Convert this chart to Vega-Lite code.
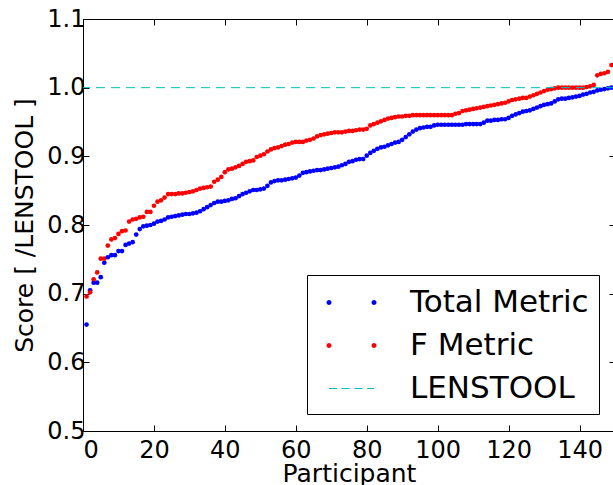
{
"$schema":"https://vega.github.io/schema/vega-lite/v6.json",
"width":532,"height":412,
"autosize":{"type":"none"},
"padding":{"left":83,"top":19,"right":0,"bottom":54},
"background":"white",
"config":{"font":"DejaVu Sans","view":{"stroke":"black","strokeWidth":1},
"axis":{"grid":false,"domainColor":"black","tickColor":"black","labelColor":"black","titleColor":"black","labelFont":"DejaVu Sans","titleFont":"DejaVu Sans","labelFontSize":24,"titleFontSize":25,"titleFontWeight":"normal","tickSize":-6,"tickWidth":1,"domainWidth":1}},
"datasets":{"scores":[
{"participant":1,"Total Metric":0.655,"F Metric":0.696},
{"participant":2,"Total Metric":0.705,"F Metric":0.702},
{"participant":3,"Total Metric":0.716,"F Metric":0.721},
{"participant":4,"Total Metric":0.716,"F Metric":0.731},
{"participant":5,"Total Metric":0.724,"F Metric":0.751},
{"participant":6,"Total Metric":0.745,"F Metric":0.751},
{"participant":7,"Total Metric":0.753,"F Metric":0.770},
{"participant":8,"Total Metric":0.756,"F Metric":0.779},
{"participant":9,"Total Metric":0.756,"F Metric":0.781},
{"participant":10,"Total Metric":0.762,"F Metric":0.787},
{"participant":11,"Total Metric":0.762,"F Metric":0.791},
{"participant":12,"Total Metric":0.771,"F Metric":0.792},
{"participant":13,"Total Metric":0.773,"F Metric":0.805},
{"participant":14,"Total Metric":0.775,"F Metric":0.808},
{"participant":15,"Total Metric":0.786,"F Metric":0.809},
{"participant":16,"Total Metric":0.794,"F Metric":0.811},
{"participant":17,"Total Metric":0.798,"F Metric":0.812},
{"participant":18,"Total Metric":0.799,"F Metric":0.819},
{"participant":19,"Total Metric":0.800,"F Metric":0.819},
{"participant":20,"Total Metric":0.802,"F Metric":0.828},
{"participant":21,"Total Metric":0.805,"F Metric":0.834},
{"participant":22,"Total Metric":0.806,"F Metric":0.836},
{"participant":23,"Total Metric":0.808,"F Metric":0.840},
{"participant":24,"Total Metric":0.811,"F Metric":0.845},
{"participant":25,"Total Metric":0.812,"F Metric":0.845},
{"participant":26,"Total Metric":0.813,"F Metric":0.845},
{"participant":27,"Total Metric":0.814,"F Metric":0.846},
{"participant":28,"Total Metric":0.815,"F Metric":0.846},
{"participant":29,"Total Metric":0.816,"F Metric":0.847},
{"participant":30,"Total Metric":0.816,"F Metric":0.848},
{"participant":31,"Total Metric":0.817,"F Metric":0.849},
{"participant":32,"Total Metric":0.818,"F Metric":0.851},
{"participant":33,"Total Metric":0.820,"F Metric":0.853},
{"participant":34,"Total Metric":0.823,"F Metric":0.854},
{"participant":35,"Total Metric":0.826,"F Metric":0.855},
{"participant":36,"Total Metric":0.829,"F Metric":0.856},
{"participant":37,"Total Metric":0.832,"F Metric":0.863},
{"participant":38,"Total Metric":0.834,"F Metric":0.866},
{"participant":39,"Total Metric":0.834,"F Metric":0.870},
{"participant":40,"Total Metric":0.835,"F Metric":0.877},
{"participant":41,"Total Metric":0.836,"F Metric":0.881},
{"participant":42,"Total Metric":0.838,"F Metric":0.882},
{"participant":43,"Total Metric":0.839,"F Metric":0.884},
{"participant":44,"Total Metric":0.842,"F Metric":0.886},
{"participant":45,"Total Metric":0.845,"F Metric":0.889},
{"participant":46,"Total Metric":0.847,"F Metric":0.892},
{"participant":47,"Total Metric":0.849,"F Metric":0.893},
{"participant":48,"Total Metric":0.851,"F Metric":0.894},
{"participant":49,"Total Metric":0.851,"F Metric":0.899},
{"participant":50,"Total Metric":0.852,"F Metric":0.901},
{"participant":51,"Total Metric":0.853,"F Metric":0.903},
{"participant":52,"Total Metric":0.857,"F Metric":0.907},
{"participant":53,"Total Metric":0.862,"F Metric":0.910},
{"participant":54,"Total Metric":0.864,"F Metric":0.912},
{"participant":55,"Total Metric":0.865,"F Metric":0.913},
{"participant":56,"Total Metric":0.865,"F Metric":0.915},
{"participant":57,"Total Metric":0.866,"F Metric":0.917},
{"participant":58,"Total Metric":0.867,"F Metric":0.918},
{"participant":59,"Total Metric":0.868,"F Metric":0.920},
{"participant":60,"Total Metric":0.869,"F Metric":0.921},
{"participant":61,"Total Metric":0.872,"F Metric":0.921},
{"participant":62,"Total Metric":0.876,"F Metric":0.921},
{"participant":63,"Total Metric":0.877,"F Metric":0.923},
{"participant":64,"Total Metric":0.878,"F Metric":0.924},
{"participant":65,"Total Metric":0.879,"F Metric":0.926},
{"participant":66,"Total Metric":0.880,"F Metric":0.929},
{"participant":67,"Total Metric":0.880,"F Metric":0.931},
{"participant":68,"Total Metric":0.881,"F Metric":0.932},
{"participant":69,"Total Metric":0.882,"F Metric":0.933},
{"participant":70,"Total Metric":0.883,"F Metric":0.934},
{"participant":71,"Total Metric":0.884,"F Metric":0.935},
{"participant":72,"Total Metric":0.885,"F Metric":0.935},
{"participant":73,"Total Metric":0.887,"F Metric":0.935},
{"participant":74,"Total Metric":0.889,"F Metric":0.936},
{"participant":75,"Total Metric":0.892,"F Metric":0.937},
{"participant":76,"Total Metric":0.893,"F Metric":0.937},
{"participant":77,"Total Metric":0.895,"F Metric":0.938},
{"participant":78,"Total Metric":0.896,"F Metric":0.939},
{"participant":79,"Total Metric":0.896,"F Metric":0.939},
{"participant":80,"Total Metric":0.901,"F Metric":0.940},
{"participant":81,"Total Metric":0.905,"F Metric":0.945},
{"participant":82,"Total Metric":0.908,"F Metric":0.947},
{"participant":83,"Total Metric":0.911,"F Metric":0.949},
{"participant":84,"Total Metric":0.913,"F Metric":0.951},
{"participant":85,"Total Metric":0.914,"F Metric":0.953},
{"participant":86,"Total Metric":0.916,"F Metric":0.955},
{"participant":87,"Total Metric":0.918,"F Metric":0.956},
{"participant":88,"Total Metric":0.920,"F Metric":0.957},
{"participant":89,"Total Metric":0.921,"F Metric":0.958},
{"participant":90,"Total Metric":0.924,"F Metric":0.958},
{"participant":91,"Total Metric":0.928,"F Metric":0.959},
{"participant":92,"Total Metric":0.932,"F Metric":0.959},
{"participant":93,"Total Metric":0.936,"F Metric":0.960},
{"participant":94,"Total Metric":0.939,"F Metric":0.960},
{"participant":95,"Total Metric":0.941,"F Metric":0.960},
{"participant":96,"Total Metric":0.942,"F Metric":0.960},
{"participant":97,"Total Metric":0.943,"F Metric":0.960},
{"participant":98,"Total Metric":0.943,"F Metric":0.960},
{"participant":99,"Total Metric":0.945,"F Metric":0.960},
{"participant":100,"Total Metric":0.946,"F Metric":0.960},
{"participant":101,"Total Metric":0.946,"F Metric":0.960},
{"participant":102,"Total Metric":0.946,"F Metric":0.960},
{"participant":103,"Total Metric":0.946,"F Metric":0.960},
{"participant":104,"Total Metric":0.946,"F Metric":0.960},
{"participant":105,"Total Metric":0.946,"F Metric":0.962},
{"participant":106,"Total Metric":0.946,"F Metric":0.963},
{"participant":107,"Total Metric":0.946,"F Metric":0.966},
{"participant":108,"Total Metric":0.947,"F Metric":0.967},
{"participant":109,"Total Metric":0.947,"F Metric":0.968},
{"participant":110,"Total Metric":0.947,"F Metric":0.969},
{"participant":111,"Total Metric":0.947,"F Metric":0.970},
{"participant":112,"Total Metric":0.947,"F Metric":0.971},
{"participant":113,"Total Metric":0.949,"F Metric":0.972},
{"participant":114,"Total Metric":0.952,"F Metric":0.973},
{"participant":115,"Total Metric":0.952,"F Metric":0.974},
{"participant":116,"Total Metric":0.953,"F Metric":0.975},
{"participant":117,"Total Metric":0.953,"F Metric":0.976},
{"participant":118,"Total Metric":0.954,"F Metric":0.977},
{"participant":119,"Total Metric":0.954,"F Metric":0.978},
{"participant":120,"Total Metric":0.956,"F Metric":0.980},
{"participant":121,"Total Metric":0.959,"F Metric":0.982},
{"participant":122,"Total Metric":0.961,"F Metric":0.983},
{"participant":123,"Total Metric":0.963,"F Metric":0.984},
{"participant":124,"Total Metric":0.965,"F Metric":0.985},
{"participant":125,"Total Metric":0.966,"F Metric":0.985},
{"participant":126,"Total Metric":0.967,"F Metric":0.987},
{"participant":127,"Total Metric":0.969,"F Metric":0.989},
{"participant":128,"Total Metric":0.971,"F Metric":0.991},
{"participant":129,"Total Metric":0.973,"F Metric":0.993},
{"participant":130,"Total Metric":0.975,"F Metric":0.995},
{"participant":131,"Total Metric":0.976,"F Metric":0.997},
{"participant":132,"Total Metric":0.977,"F Metric":0.998},
{"participant":133,"Total Metric":0.980,"F Metric":0.999},
{"participant":134,"Total Metric":0.983,"F Metric":1.000},
{"participant":135,"Total Metric":0.984,"F Metric":1.000},
{"participant":136,"Total Metric":0.984,"F Metric":1.000},
{"participant":137,"Total Metric":0.985,"F Metric":1.000},
{"participant":138,"Total Metric":0.986,"F Metric":1.000},
{"participant":139,"Total Metric":0.987,"F Metric":1.000},
{"participant":140,"Total Metric":0.988,"F Metric":1.000},
{"participant":141,"Total Metric":0.990,"F Metric":1.000},
{"participant":142,"Total Metric":0.991,"F Metric":1.001},
{"participant":143,"Total Metric":0.993,"F Metric":1.002},
{"participant":144,"Total Metric":0.994,"F Metric":1.004},
{"participant":145,"Total Metric":0.996,"F Metric":1.018},
{"participant":146,"Total Metric":0.997,"F Metric":1.020},
{"participant":147,"Total Metric":0.998,"F Metric":1.021},
{"participant":148,"Total Metric":0.999,"F Metric":1.023},
{"participant":149,"Total Metric":1.000,"F Metric":1.033}
],
"lenstool":[{"lenstool":1.0}]},
"layer":[
{"data":{"name":"scores"},
 "transform":[{"fold":["Total Metric","F Metric"],"as":["metric","score"]}],
 "mark":{"type":"point","filled":true,"size":22,"opacity":1},
 "encoding":{
  "x":{"field":"participant","type":"quantitative","scale":{"domain":[0,150],"nice":false,"zero":false},
       "axis":{"orient":"bottom","values":[0,20,40,60,80,100,120,140],"title":"Participant","labelPadding":13,"titlePadding":-1,"domain":false}},
  "y":{"field":"score","type":"quantitative","scale":{"domain":[0.5,1.1],"nice":false,"zero":false},
       "axis":{"orient":"left","values":[0.5,0.6,0.7,0.8,0.9,1.0,1.1],"format":".1f","title":"Score [ /LENSTOOL ]","labelPadding":4,"titlePadding":9,"domain":false}},
  "color":{"field":"metric","type":"nominal","sort":null,
    "scale":{"domain":["Total Metric","F Metric","LENSTOOL"],"range":["#0000ff","#ff0000","#00bfbf"]},
    "legend":{"title":null,"orient":"none","legendX":224,"legendY":256,"direction":"vertical",
      "strokeColor":"black","fillColor":"white","padding":10,"labelFontSize":31,"labelFont":"DejaVu Sans","labelColor":"black",
      "symbolSize":1225,"symbolStrokeWidth":0,"rowPadding":10,"labelOffset":58,"labelLimit":400,
      "encoding":{"symbols":{
        "shape":{"condition":{"test":"datum.value === 'LENSTOOL'","value":"M-0.314,-0.035H0.143V0.035H-0.314Z M0.411,-0.035H0.869V0.035H0.411Z M1.137,-0.035H1.594V0.035H1.137Z M1.863,-0.035H2.257V0.035H1.863Z"},"value":"M-0.457,0A0.143,0.143,0,1,0,-0.171,0A0.143,0.143,0,1,0,-0.457,0Z M2.114,0A0.143,0.143,0,1,0,2.4,0A0.143,0.143,0,1,0,2.114,0Z"},
        "opacity":{"value":1}}}}}
 }},
{"data":{"name":"lenstool"},
 "mark":{"type":"rule","color":"#00bfbf","strokeDash":[9,6],"strokeWidth":1},
 "encoding":{"y":{"field":"lenstool","type":"quantitative","axis":null}}},
{"data":{"name":"scores"},
 "transform":[{"fold":["Total Metric","F Metric"],"as":["metric","score"]}],
 "mark":{"type":"point","opacity":0},
 "encoding":{
  "x":{"field":"participant","type":"quantitative","axis":{"orient":"top","values":[0,20,40,60,80,100,120,140],"labels":false,"title":null,"domain":false}},
  "y":{"field":"score","type":"quantitative","axis":{"orient":"right","values":[0.5,0.6,0.7,0.8,0.9,1.0,1.1],"labels":false,"title":null,"domain":false}}}}
],
"resolve":{"axis":{"x":"independent","y":"independent"}}
}
